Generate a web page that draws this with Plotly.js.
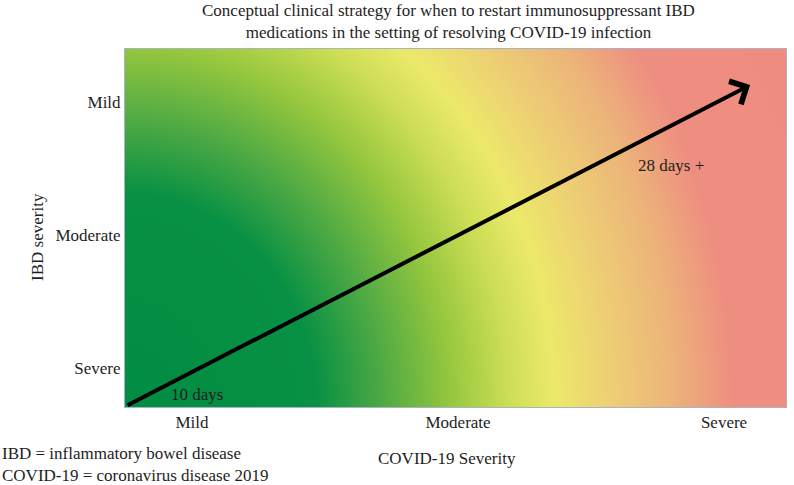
<!DOCTYPE html>
<html>
<head>
<meta charset="utf-8">
<script src="https://cdn.plot.ly/plotly-3.0.1.min.js"></script>
<style>
html,body{margin:0;padding:0;background:#ffffff;}
#chart{width:794px;height:485px;}
</style>
</head>
<body>
<div id="chart"></div>
<script>
// ---- data ----
const covidSeverity = ["Mild", "Moderate", "Severe"];
const covidTickPos = [1, 2, 3];
const ibdSeverity = ["Severe", "Moderate", "Mild"];
const ibdTickPos = [1, 2, 3];
const arrowStart = [0.752, 0.715];   // (x, y) in axis units
const arrowEnd = [3.098, 3.128];
const labelText = ["10 days", "28 days +"];
const labelX = [1.02, 2.80];
const labelY = [0.80, 2.52];
const titleText = "Conceptual clinical strategy for when to restart immunosuppressant IBD<br>medications in the setting of resolving COVID-19 infection";
const footnotes = ["IBD = inflammatory bowel disease", "COVID-19 = coronavirus disease 2019"];

// ---- background gradient (decorative) ----
const W = 661, H = 358;
const cv = document.createElement('canvas');
cv.width = W; cv.height = H;
const ctx = cv.getContext('2d');
const img = ctx.createImageData(W, H);
const stops = [
  [0.00, [0, 140, 66]],
  [0.44, [8, 145, 68]],
  [0.58, [75, 168, 68]],
  [0.74, [150, 199, 62]],
  [0.87, [205, 222, 85]],
  [0.97, [236, 233, 106]],
  [1.10, [237, 206, 116]],
  [1.23, [236, 181, 121]],
  [1.37, [238, 142, 128]],
  [2.50, [238, 134, 130]]
];
function colAt(t){
  if (t <= stops[0][0]) return stops[0][1];
  for (let i = 1; i < stops.length; i++){
    if (t <= stops[i][0]){
      const a = stops[i-1], b = stops[i];
      const f = (t - a[0]) / (b[0] - a[0]);
      return [0,1,2].map(k => a[1][k] + (b[1][k]-a[1][k])*f);
    }
  }
  return stops[stops.length-1][1];
}
const cx = -5, cy = 357, ra = 447, rb = 487;
for (let y = 0; y < H; y++){
  for (let x = 0; x < W; x++){
    const dx = (x - cx)/ra, dy = (y - cy)/rb;
    const c = colAt(Math.sqrt(dx*dx + dy*dy));
    const i = (y*W + x)*4;
    img.data[i] = c[0]; img.data[i+1] = c[1]; img.data[i+2] = c[2]; img.data[i+3] = 255;
  }
}
ctx.putImageData(img, 0, 0);
const bgURL = cv.toDataURL('image/png');

const serif = "Liberation Serif, Times New Roman, serif";
const txt = "#1e1e1e";
const fs = 17;

const traces = [{
  x: [arrowStart[0], arrowEnd[0]],
  y: [arrowStart[1], arrowEnd[1]],
  mode: 'lines', line: {color: 'rgba(0,0,0,0)'},
  hoverinfo: 'skip', showlegend: false
}];

const annotations = [
  {
    x: arrowEnd[0], y: arrowEnd[1], ax: arrowStart[0], ay: arrowStart[1],
    xref: 'x', yref: 'y', axref: 'x', ayref: 'y',
    text: '', showarrow: true, arrowhead: 4, arrowsize: 1.25, arrowwidth: 4, arrowcolor: '#000'
  },
  {x: labelX[0], y: labelY[0], xref: 'x', yref: 'y', text: labelText[0], showarrow: false,
   font: {family: serif, size: fs, color: txt}},
  {x: labelX[1], y: labelY[1], xref: 'x', yref: 'y', text: labelText[1], showarrow: false,
   font: {family: serif, size: fs, color: txt}},
  {x: 0.4887, y: 1.078, xref: 'paper', yref: 'paper', text: titleText, showarrow: false,
   xanchor: 'center', yanchor: 'middle', align: 'center',
   font: {family: serif, size: fs, color: txt}},
  {x: -0.189, y: -0.16, xref: 'paper', yref: 'paper', text: footnotes.join('<br>'), showarrow: false,
   xanchor: 'left', yanchor: 'middle', align: 'left',
   font: {family: serif, size: fs, color: txt}},
  {x: 0.487, y: -0.145, xref: 'paper', yref: 'paper', text: 'COVID-19 Severity', showarrow: false,
   xanchor: 'center', yanchor: 'middle', font: {family: serif, size: fs, color: txt}},
  {x: -0.1316, y: 0.475, xref: 'paper', yref: 'paper', text: 'IBD severity', showarrow: false,
   textangle: -90, xanchor: 'center', yanchor: 'middle', font: {family: serif, size: fs, color: txt}}
];

const layout = {
  width: 794, height: 485,
  margin: {l: 125, r: 8, t: 49, b: 78},
  paper_bgcolor: '#ffffff', plot_bgcolor: '#ffffff',
  showlegend: false,
  xaxis: {
    range: [0.748, 3.233], tickvals: covidTickPos, ticktext: covidSeverity,
    showgrid: false, zeroline: false, showline: true, mirror: true, linecolor: '#a7b3c6', linewidth: 1,
    ticks: '', tickfont: {family: serif, size: fs, color: txt}, fixedrange: true
  },
  yaxis: {
    range: [0.707, 3.399], tickvals: ibdTickPos, ticktext: ibdSeverity,
    showgrid: false, zeroline: false, showline: true, mirror: true, linecolor: '#a7b3c6', linewidth: 1,
    ticks: '', tickfont: {family: serif, size: fs, color: txt}, fixedrange: true
  },
  images: [{
    source: bgURL, xref: 'paper', yref: 'paper', x: 0, y: 1, sizex: 1, sizey: 1,
    sizing: 'stretch', xanchor: 'left', yanchor: 'top', layer: 'below'
  }],
  annotations: annotations
};

Plotly.newPlot('chart', traces, layout, {displayModeBar: false, staticPlot: true});
</script>
</body>
</html>
